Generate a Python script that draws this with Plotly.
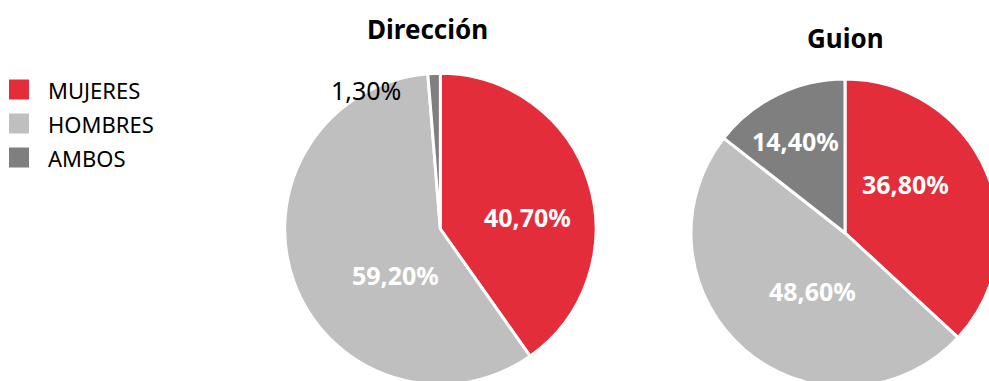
import plotly.graph_objects as go

# Categories and values (percent)
categorias = ["MUJERES", "HOMBRES", "AMBOS"]
colores = ["#E32D3B", "#BFBFBF", "#7F7F7F"]
direccion = [40.7, 59.2, 1.3]
guion = [36.8, 48.6, 14.4]
titulos = ["Dirección", "Guion"]

W, H = 1010, 400
FONT = "Noto Sans"


def px_x(x):
    return x / W


def px_y(y):
    return 1 - y / H


def pct(v):
    return f"{v:.2f}%".replace(".", ",")


fig = go.Figure()

pies = [
    (direccion, [px_x(284.7), px_x(596)], [px_y(384.7), px_y(73.3)]),
    (guion, [px_x(691), px_x(999)], [px_y(387), px_y(79)]),
]
for vals, dx, dy in pies:
    fig.add_trace(go.Pie(
        labels=categorias, values=vals, sort=False, direction="clockwise",
        rotation=0, marker=dict(colors=colores, line=dict(color="white", width=3)),
        textinfo="none", domain=dict(x=dx, y=dy),
        showlegend=False, hoverinfo="label+percent",
    ))

annotations = []
# chart titles
for txt, (cx, cy) in zip(titulos, [(427, 29), (845, 38)]):
    annotations.append(dict(
        text=f"<b>{txt}</b>", x=px_x(cx), y=px_y(cy), xref="paper", yref="paper",
        xanchor="center", yanchor="middle", showarrow=False,
        font=dict(size=26, family=FONT, color="black"),
    ))

# slice value labels: (value, x, y, inside?)
etiquetas = [
    (direccion[0], 527, 217, True),
    (direccion[1], 395, 275, True),
    (direccion[2], 366, 90, False),
    (guion[0], 905, 184, True),
    (guion[1], 812, 291, True),
    (guion[2], 795, 141, True),
]
for v, cx, cy, dentro in etiquetas:
    annotations.append(dict(
        text=f"<b>{pct(v)}</b>" if dentro else pct(v),
        x=px_x(cx), y=px_y(cy), xref="paper", yref="paper",
        xanchor="center", yanchor="middle", showarrow=False,
        font=dict(size=25, family=FONT, color="white" if dentro else "black"),
    ))

# legend
shapes = []
for i, (cat, col) in enumerate(zip(categorias, colores)):
    yc = 89.5 + 34 * i
    shapes.append(dict(
        type="rect", xref="paper", yref="paper",
        x0=px_x(9), x1=px_x(29), y0=px_y(yc + 10), y1=px_y(yc - 10),
        fillcolor=col, line=dict(width=0),
    ))
    annotations.append(dict(
        text=cat, x=px_x(46), y=px_y(yc), xref="paper", yref="paper",
        xanchor="left", yanchor="middle", showarrow=False,
        font=dict(size=22, family=FONT, color="black"),
    ))

fig.update_layout(
    width=W, height=H, autosize=False,
    margin=dict(l=0, r=0, t=0, b=0),
    paper_bgcolor="white", plot_bgcolor="white",
    annotations=annotations, shapes=shapes,
)

fig.write_html(
    "out.html",
    post_script="document.body.style.margin='0';"
                "document.body.style.overflow='hidden';"
                "document.documentElement.style.overflow='hidden';",
)
